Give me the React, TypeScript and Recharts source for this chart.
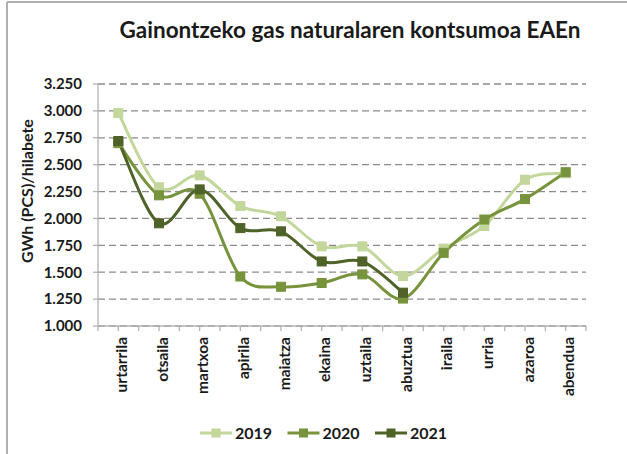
import React from 'react';
import { LineChart, Line, XAxis, YAxis, CartesianGrid } from 'recharts';

const months = ['urtarrila', 'otsaila', 'martxoa', 'apirila', 'maiatza', 'ekaina', 'uztaila', 'abuztua', 'iraila', 'urria', 'azaroa', 'abendua'];
const s2019 = [2980, 2290, 2400, 2115, 2020, 1740, 1740, 1465, 1720, 1930, 2360, 2420];
const s2020 = [2700, 2215, 2230, 1460, 1365, 1400, 1480, 1255, 1680, 1990, 2180, 2430];
const s2021 = [2720, 1955, 2270, 1910, 1880, 1600, 1600, 1310];
const yTicks = [1000, 1250, 1500, 1750, 2000, 2250, 2500, 2750, 3000, 3250];
const seriesNames = ['2019', '2020', '2021'];
const colors = ['#C3D69B', '#77933C', '#4F6228'];

const title = 'Gainontzeko gas naturalaren kontsumoa EAEn';
const yLabel = 'GWh (PCS)/hilabete';

const data = months.map((m, i) => ({
  i,
  name: m,
  v2019: s2019[i],
  v2020: s2020[i],
  v2021: i < s2021.length ? s2021[i] : null,
}));

const xTicks: number[] = [];
for (let k = -1; k <= 2 * months.length - 1; k++) xTicks.push(k / 2);

const FONT = 'Lato, "Open Sans", sans-serif';

// Excel-like smoothed line (Catmull-Rom through points)
function excelCurve(context: any) {
  let pts: number[][] = [];
  return {
    areaStart() {},
    areaEnd() {},
    lineStart() { pts = []; },
    point(x: number, y: number) { pts.push([+x, +y]); },
    lineEnd() {
      const n = pts.length;
      if (!n) return;
      context.moveTo(pts[0][0], pts[0][1]);
      for (let k = 0; k < n - 1; k++) {
        const p0 = pts[Math.max(k - 1, 0)];
        const p1 = pts[k];
        const p2 = pts[k + 1];
        const p3 = pts[Math.min(k + 2, n - 1)];
        const c1x = p1[0] + (p2[0] - p0[0]) / 6;
        const c1y = p1[1] + (p2[1] - p0[1]) / 6;
        const c2x = p2[0] - (p3[0] - p1[0]) / 6;
        const c2y = p2[1] - (p3[1] - p1[1]) / 6;
        context.bezierCurveTo(c1x, c1y, c2x, c2y, p2[0], p2[1]);
      }
    },
  };
}

const fmt = (v: number) => {
  const s = String(Math.round(v));
  return s.length > 3 ? s.slice(0, s.length - 3) + '.' + s.slice(s.length - 3) : s;
};

const SquareDot = (color: string) => (props: any) => {
  const { cx, cy, value } = props;
  if (value == null || cx == null || cy == null) return <g />;
  return <rect x={cx - 4.5} y={cy - 4.5} width={9} height={9} fill={color} stroke={color} />;
};

const XTick = (props: any) => {
  const { x, y, payload } = props;
  const v = payload.value;
  if (!Number.isInteger(v) || v < 0 || v >= months.length) return <g />;
  return (
    <text
      transform={`translate(${x},${y}) rotate(-90)`}
      textAnchor="end"
      dy="0.55em"
      fontFamily={FONT}
      fontWeight={700}
      fontSize={15.5}
      fill="#1a1a1a"
    >
      {months[v]}
    </text>
  );
};

export default function App() {
  return (
    <div style={{ position: 'absolute', left: 0, top: 0, width: 627, height: 454, background: '#fff' }}>
      <LineChart
        width={627}
        height={454}
        data={data}
        margin={{ top: 84, right: 41, left: 38, bottom: 48 }}
      >
        <CartesianGrid vertical={false} stroke="#8c8c8c" strokeWidth={1.3} strokeDasharray="7 4" />
        <XAxis
          type="number"
          dataKey="i"
          domain={[-0.5, 11.5]}
          ticks={xTicks}
          interval={0}
          allowDecimals
          height={80}
          tick={<XTick />}
          tickSize={5}
          tickMargin={6}
          stroke="#b3b3b3"
          axisLine={{ stroke: '#b3b3b3', strokeWidth: 1.3 }}
          tickLine={{ stroke: '#b3b3b3', strokeWidth: 1.3 }}
        />
        <YAxis
          domain={[1000, 3250]}
          ticks={yTicks}
          interval={0}
          width={60}
          tickFormatter={fmt}
          tickSize={5}
          tickMargin={11}
          axisLine={{ stroke: '#b3b3b3', strokeWidth: 1.3 }}
          tickLine={{ stroke: '#b3b3b3', strokeWidth: 1.3 }}
          tick={{ fontFamily: FONT, fontWeight: 700, fontSize: 15, fill: '#1a1a1a' }}
        />
        {['v2019', 'v2020', 'v2021'].map((k, idx) => (
          <Line
            key={k}
            dataKey={k}
            type={excelCurve as any}
            stroke={colors[idx]}
            strokeWidth={3}
            dot={SquareDot(colors[idx])}
            activeDot={false}
            isAnimationActive={false}
            connectNulls={false}
          />
        ))}
      </LineChart>
      <svg
        width={627}
        height={454}
        style={{ position: 'absolute', left: 0, top: 0, pointerEvents: 'none' }}
      >
        <line x1={7} y1={2} x2={627} y2={2} stroke="#b0b0b0" strokeWidth={2} />
        <line x1={7} y1={2} x2={7} y2={454} stroke="#b0b0b0" strokeWidth={2} />
        <text x={350} y={38} textAnchor="middle" fontFamily={FONT} fontWeight={700} fontSize={22.5} fill="#1a1a1a">
          {title}
        </text>
        <text
          transform="translate(27,191) rotate(-90)"
          textAnchor="middle"
          dy="0.35em"
          fontFamily={FONT}
          fontWeight={700}
          fontSize={16}
          fill="#1a1a1a"
        >
          {yLabel}
        </text>
        {seriesNames.map((n, idx) => {
          const x0 = 200 + idx * 87.5;
          return (
            <g key={n}>
              <line x1={x0} y1={433} x2={x0 + 32} y2={433} stroke={colors[idx]} strokeWidth={3} />
              <rect x={x0 + 11.5} y={428.5} width={9} height={9} fill={colors[idx]} />
              <text x={x0 + 35} y={433} dy="0.35em" fontFamily={FONT} fontWeight={700} fontSize={16} fill="#1a1a1a">
                {n}
              </text>
            </g>
          );
        })}
      </svg>
    </div>
  );
}
